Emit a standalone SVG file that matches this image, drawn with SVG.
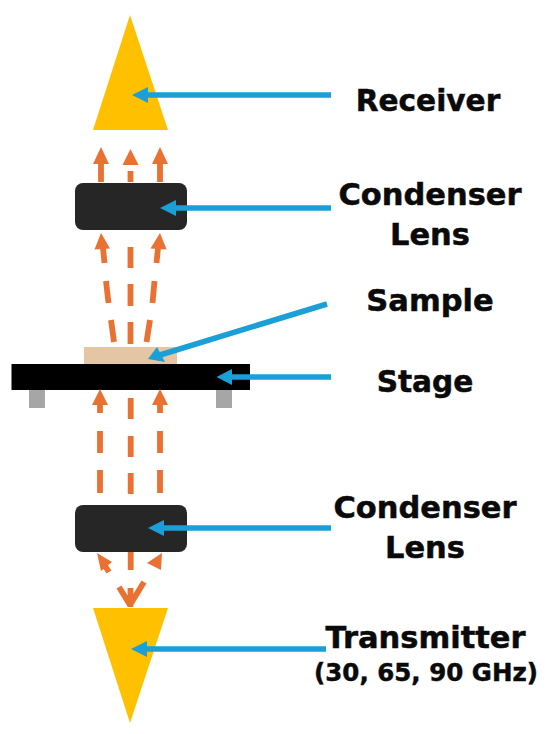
<svg xmlns="http://www.w3.org/2000/svg" width="550" height="734" viewBox="0 0 550 734">
<style>
.lab{font-family:"DejaVu Sans",Verdana,sans-serif;font-weight:700;font-size:30.5px;fill:#0a0a0a;stroke:#0a0a0a;stroke-width:.5px;text-anchor:middle}
.sm{font-size:29.6px}
.sub{font-size:24.5px}
.o{stroke:#E97132;stroke-width:5.8;fill:none}
.oh{fill:#E97132}
.b{stroke:#1AA0D6;stroke-width:5.6;fill:none}
.bh{fill:#1AA0D6}
.y{fill:#FFC000}
.lens{fill:#262626}
</style>
<rect width="550" height="734" fill="#fff"/>
<g id="receiver"><polygon class="y" points="130,15 168,130 93,130"/><text class="lab sm" x="428" y="111">Receiver</text></g>
<g id="transmitter"><polygon class="y" points="93,608 168,608 130,723"/><text class="lab" x="425.500" y="648">Transmitter</text><text class="lab sub" x="426" y="681">(30, 65, 90 GHz)</text></g>
<g id="condenser-top"><rect class="lens" x="75" y="183" width="112" height="47" rx="8"/><text class="lab" x="430" y="205">Condenser</text><text class="lab" x="430" y="245">Lens</text></g>
<g id="condenser-bottom"><rect class="lens" x="75" y="505" width="112" height="47" rx="8"/><text class="lab" x="425" y="518">Condenser</text><text class="lab" x="425" y="558">Lens</text></g>
<g id="sample"><rect x="84" y="347" width="93" height="17" fill="#E4C6A5"/><text class="lab" x="430" y="311">Sample</text></g>
<g id="stage"><rect x="29" y="390" width="16" height="18" fill="#A6A6A6"/><rect x="216" y="390" width="16" height="18" fill="#A6A6A6"/><rect x="11.500" y="364" width="238.500" height="26" fill="#000"/><text class="lab sm" x="425" y="392">Stage</text></g>
<g id="connectors">
<path class="o" d="M101 182V163M130.500 182V171M160 182V163"/>
<polygon class="oh" points="101,147 109,164 93,164"/><polygon class="oh" points="130.500,149 138.500,165 122.500,165"/><polygon class="oh" points="160,147 168,164 152,164"/>
<path class="o" d="M103 248L104.500 263M106 281L108.500 303M111 320L114 342M130.500 247V268M130.500 284V306M130.500 322V344M158 248L156.500 263M154.500 281L152.500 303M150 320L146.500 342"/>
<polygon class="oh" points="101,233 110,248.500 94.500,249.500"/><polygon class="oh" points="160,233 166.700,249.500 150.500,248.500"/>
<path class="o" d="M100 402V413M100 431V453M100 470V493M130.700 398V419M130.700 436V457M130.700 473V494M160 402V413M160 431V453M160 470V493"/>
<polygon class="oh" points="100,389 108,405 92,405"/><polygon class="oh" points="160,389 168,405 152,405"/>
<path class="o" d="M105 566L109 572M130.700 552V570M130.500 607V588M130 605L119 587M130 605L144 582"/>
<polygon class="oh" points="97,553 112,562 101,571"/><polygon class="oh" points="147,563 162,553 161,570"/>
<path class="b" d="M331 95H145M331 208H172M327 304L160 355M331 377H230M331 528H160M326 649H144"/>
<polygon class="bh" points="132,95 148,87 148,103"/><polygon class="bh" points="160,208 176,200 176,216"/><polygon class="bh" points="148,359 157,347 165,362"/><polygon class="bh" points="216.500,377 232,369 232,385"/><polygon class="bh" points="148,528 164,520 164,536"/><polygon class="bh" points="131,649 147,641 147,657"/>
</g>
</svg>
